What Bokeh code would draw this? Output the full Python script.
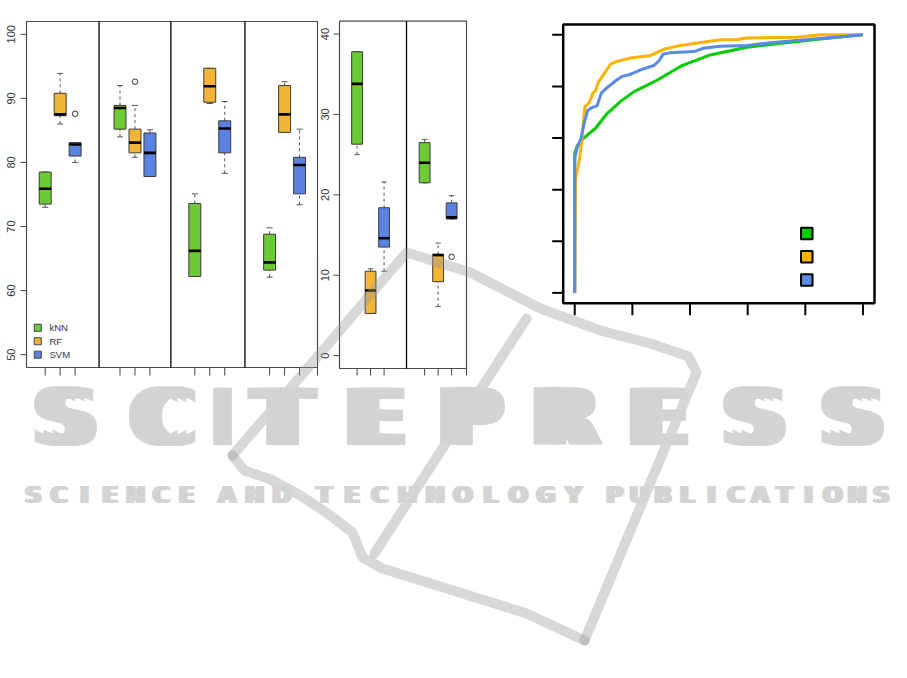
import math
from bokeh.plotting import figure
from bokeh.models import Range1d
from bokeh.core.properties import value
from bokeh.embed import file_html
from bokeh.resources import INLINE

# ---------------- data ----------------
methods = ["kNN", "RF", "SVM"]
box_colors = ["#6CCB35", "#F2B535", "#5B82E0"]
roc_colors = ["#00CC00", "#FFB300", "#5A8AE8"]

# Panel 1: four groups x three methods
acc_pos = [1, 2, 3, 6, 7, 8, 11, 12, 13, 16, 17, 18]
acc_low = [73.0, 86.0, 80.0, 84.0, 80.8, 77.8, 62.2, 89.2, 78.3, 62.1, 84.7, 73.4]
acc_q1 = [73.5, 87.3, 81.0, 85.2, 81.5, 77.8, 62.2, 89.4, 81.5, 63.2, 84.7, 75.1]
acc_med = [75.9, 87.5, 82.8, 88.5, 83.1, 81.5, 66.2, 91.9, 85.3, 64.4, 87.5, 79.6]
acc_q3 = [78.5, 90.8, 83.1, 88.9, 85.2, 84.6, 73.6, 94.7, 86.5, 68.8, 92.0, 80.8]
acc_high = [78.5, 93.9, 83.1, 92.0, 88.9, 85.1, 75.1, 94.7, 89.5, 69.8, 92.6, 85.2]
acc_out_pos = [3, 7]
acc_out_val = [87.6, 92.6]
acc_ticks = [50, 60, 70, 80, 90, 100]
acc_sep = [4.6, 9.4, 14.35]
acc_xlim = (-0.25, 19.2)
acc_ylim = (48, 102)
acc_legend_y = [54.2, 52.1, 50.0]

# Panel 2: two groups x three methods
err_pos = [1, 2, 3, 6, 7, 8]
err_low = [25.0, 5.25, 10.5, 21.5, 6.1, 17.0]
err_q1 = [26.3, 5.25, 13.5, 21.5, 9.2, 17.0]
err_med = [33.8, 8.1, 14.6, 24.0, 12.5, 17.2]
err_q3 = [37.8, 10.5, 18.4, 26.5, 12.6, 19.0]
err_high = [37.8, 10.8, 21.6, 26.9, 14.0, 19.9]
err_out_pos = [8]
err_out_val = [12.3]
err_ticks = [0, 10, 20, 30, 40]
err_sep = [4.66]
err_xlim = (-0.3, 9.1)
err_ylim = (-1.6, 41.6)

# Panel 3: ROC curves
roc_ticks = [0, 0.2, 0.4, 0.6, 0.8, 1.0]
roc_lim = (-0.04, 1.04)
roc_legend_y = [0.23, 0.14, 0.05]
knn_fpr = [0, 0, 0.008, 0.031, 0.072, 0.113, 0.159, 0.206, 0.287, 0.372, 0.47, 0.597, 0.725, 0.852, 1.0]
knn_tpr = [0, 0.54, 0.568, 0.6, 0.638, 0.696, 0.742, 0.78, 0.825, 0.881, 0.922, 0.952, 0.968, 0.984, 1.0]
rf_fpr = [0, 0.003, 0.017, 0.025, 0.035, 0.049, 0.064, 0.072, 0.083, 0.101, 0.124, 0.147, 0.194,
          0.263, 0.309, 0.367, 0.425, 0.505, 0.563, 0.597, 0.771, 0.852, 1.0]
rf_tpr = [0, 0.444, 0.522, 0.6, 0.722, 0.735, 0.776, 0.783, 0.819, 0.848, 0.886, 0.897, 0.91,
          0.92, 0.944, 0.959, 0.968, 0.981, 0.982, 0.988, 0.991, 1.0, 1.0]
svm_fpr = [0, 0, 0.008, 0.022, 0.034, 0.045, 0.06, 0.078, 0.092, 0.113, 0.142, 0.165, 0.188,
           0.229, 0.274, 0.292, 0.307, 0.333, 0.413, 0.447, 0.505, 0.597, 0.678, 0.829, 1.0]
svm_tpr = [0, 0.522, 0.561, 0.6, 0.664, 0.707, 0.718, 0.726, 0.774, 0.796, 0.822, 0.839, 0.845,
           0.864, 0.881, 0.899, 0.925, 0.931, 0.935, 0.948, 0.956, 0.959, 0.969, 0.984, 1.0]

# watermark
wm_big = "SCITEPRESS"
wm_big_centers = [65, 162, 222, 282, 375, 470, 565, 658, 754, 852]
wm_words = ["SCIENCE", "AND", "TECHNOLOGY", "PUBLICATIONS"]
wm_word_spans = [(20, 199), (213, 295), (310, 587), (602, 893)]
wm_paths_x = [[232, 300, 406, 470, 540, 600, 650, 688, 696, 584],
              [526, 374],
              [232, 244, 270, 300, 330, 352, 362, 382, 526, 584]]
wm_paths_y = [[455, 376, 252, 272, 308, 330, 343, 356, 372, 640],
              [318, 553],
              [455, 470, 479, 495, 515, 532, 557, 568, 613, 640]]

# ---------------- layout helpers ----------------
W, H = 891, 662
X0, X1, Y0, Y1 = 0, W, H, 0   # page coordinates of the canvas


def xrange_for(d0, d1, c0, c1):
    k = (c1 - c0) / (d1 - d0)
    return Range1d(start=d0 - (c0 - X0) / k, end=d0 + (X1 - c0) / k)


def yrange_for(v0, v1, b, t):
    k = (b - t) / (v1 - v0)
    return Range1d(start=v0 - (Y0 - b) / k, end=v0 + (b - Y1) / k)


p = figure(width=W, height=H, x_range=Range1d(X0, X1), y_range=Range1d(Y0, Y1),
           output_backend="svg", toolbar_location=None,
           x_axis_location=None, y_axis_location=None, min_border=0)
p.outline_line_color = None
p.grid.visible = False
p.background_fill_color = "white"

P1 = dict(l=26, r=317, t=21, b=367)
P2 = dict(l=339, r=466, t=20.7, b=368)
P3 = dict(l=562.7, r=874, t=24, b=302.7)

p.extra_x_ranges = {
    "p1x": xrange_for(acc_xlim[0], acc_xlim[1], P1["l"], P1["r"]),
    "p2x": xrange_for(err_xlim[0], err_xlim[1], P2["l"], P2["r"]),
    "p3x": xrange_for(roc_lim[0], roc_lim[1], P3["l"], P3["r"]),
}
p.extra_y_ranges = {
    "p1y": yrange_for(acc_ylim[0], acc_ylim[1], P1["b"], P1["t"]),
    "p2y": yrange_for(err_ylim[0], err_ylim[1], P2["b"], P2["t"]),
    "p3y": yrange_for(roc_lim[0], roc_lim[1], P3["b"], P3["t"]),
}

FONT = value("Liberation Sans")
BOXW = 0.4
CAPW = 0.2


def boxes(xn, yn, pos, low, q1, med, q3, high, out_pos, out_val, ngroups):
    cols = box_colors * ngroups
    kw = dict(x_range_name=xn, y_range_name=yn)
    p.segment(x0=pos, y0=low, x1=pos, y1=q1, line_color="#555555", line_width=1,
              line_dash="3 3", **kw)
    p.segment(x0=pos, y0=q3, x1=pos, y1=high, line_color="#555555", line_width=1,
              line_dash="3 3", **kw)
    p.segment(x0=[x - CAPW for x in pos], x1=[x + CAPW for x in pos], y0=low, y1=low,
              line_color="#555555", line_width=1, **kw)
    p.segment(x0=[x - CAPW for x in pos], x1=[x + CAPW for x in pos], y0=high, y1=high,
              line_color="#555555", line_width=1, **kw)
    p.quad(left=[x - BOXW for x in pos], right=[x + BOXW for x in pos], bottom=q1, top=q3,
           fill_color=cols, line_color="#3C3C3C", line_width=1, **kw)
    p.segment(x0=[x - BOXW for x in pos], x1=[x + BOXW for x in pos], y0=med, y1=med,
              line_color="black", line_width=2.6, **kw)
    p.scatter(x=out_pos, y=out_val, marker="circle", size=5.5, fill_color=None,
              line_color="#333333", line_width=1, **kw)


# ---------------- panel 1 ----------------
p.quad(left=[acc_xlim[0]], right=[acc_xlim[1]], bottom=[acc_ylim[0]], top=[acc_ylim[1]],
       fill_color=None, line_color="#4A4A4A", line_width=1.2,
       x_range_name="p1x", y_range_name="p1y")
p.segment(x0=acc_sep, x1=acc_sep, y0=[acc_ylim[0]] * 3, y1=[acc_ylim[1]] * 3,
          line_color="black", line_width=1.3, x_range_name="p1x", y_range_name="p1y")
boxes("p1x", "p1y", acc_pos, acc_low, acc_q1, acc_med, acc_q3, acc_high,
      acc_out_pos, acc_out_val, 4)
p.segment(x0=[P1["l"] - 6] * len(acc_ticks), x1=[P1["l"]] * len(acc_ticks),
          y0=acc_ticks, y1=acc_ticks, line_color="#444444", line_width=1, y_range_name="p1y")
p.text(x=[10.5] * len(acc_ticks), y=acc_ticks, text=[str(t) for t in acc_ticks],
       angle=math.pi / 2, text_align="center", text_baseline="middle",
       text_font=FONT, text_font_size="11px", text_color="#333333", y_range_name="p1y")
xt1 = acc_pos + [acc_xlim[1]]
p.segment(x0=xt1, x1=xt1, y0=[P1["b"]] * len(xt1), y1=[P1["b"] + 8] * len(xt1),
          line_color="#444444", line_width=1, x_range_name="p1x")
# legend
lx = 0.27
p.quad(left=[lx] * 3, right=[lx + 0.47] * 3, bottom=[v - 0.55 for v in acc_legend_y],
       top=[v + 0.55 for v in acc_legend_y], fill_color=box_colors, line_color="#444444",
       line_width=1, x_range_name="p1x", y_range_name="p1y")
p.text(x=[49] * 3, y=acc_legend_y, text=methods,
       text_align="left", text_baseline="middle", text_font=FONT, text_font_size="9.5px",
       text_color="#333333", y_range_name="p1y")

# ---------------- panel 2 ----------------
p.quad(left=[err_xlim[0]], right=[err_xlim[1]], bottom=[err_ylim[0]], top=[err_ylim[1]],
       fill_color=None, line_color="#4A4A4A", line_width=1.2,
       x_range_name="p2x", y_range_name="p2y")
p.segment(x0=err_sep, x1=err_sep, y0=[err_ylim[0]], y1=[err_ylim[1]],
          line_color="black", line_width=1.3, x_range_name="p2x", y_range_name="p2y")
boxes("p2x", "p2y", err_pos, err_low, err_q1, err_med, err_q3, err_high,
      err_out_pos, err_out_val, 2)
p.segment(x0=[P2["l"] - 6] * len(err_ticks), x1=[P2["l"]] * len(err_ticks),
          y0=err_ticks, y1=err_ticks, line_color="#444444", line_width=1, y_range_name="p2y")
p.text(x=[324] * len(err_ticks), y=err_ticks, text=[str(t) for t in err_ticks],
       angle=math.pi / 2, text_align="center", text_baseline="middle",
       text_font=FONT, text_font_size="11px", text_color="#333333", y_range_name="p2y")
xt2 = err_pos + [err_xlim[1]]
p.segment(x0=xt2, x1=xt2, y0=[P2["b"]] * len(xt2), y1=[P2["b"] + 7] * len(xt2),
          line_color="#444444", line_width=1, x_range_name="p2x")

# ---------------- panel 3 ----------------
kw3 = dict(x_range_name="p3x", y_range_name="p3y")
p.line(knn_fpr, knn_tpr, line_color=roc_colors[0], line_width=3, **kw3)
p.line(rf_fpr, rf_tpr, line_color=roc_colors[1], line_width=3, **kw3)
p.line(svm_fpr, svm_tpr, line_color=roc_colors[2], line_width=3, **kw3)
p.quad(left=[roc_lim[0]], right=[roc_lim[1]], bottom=[roc_lim[0]], top=[roc_lim[1]],
       fill_color=None, line_color="black", line_width=2.5, **kw3)
p.segment(x0=[P3["l"] - 11] * len(roc_ticks), x1=[P3["l"]] * len(roc_ticks),
          y0=roc_ticks, y1=roc_ticks, line_color="black", line_width=2, y_range_name="p3y")
p.segment(x0=roc_ticks, x1=roc_ticks, y0=[P3["b"]] * len(roc_ticks),
          y1=[P3["b"] + 12] * len(roc_ticks), line_color="black", line_width=2,
          x_range_name="p3x")
p.quad(left=[0.785] * 3, right=[0.825] * 3, bottom=[v - 0.022 for v in roc_legend_y],
       top=[v + 0.022 for v in roc_legend_y], fill_color=roc_colors, line_color="black",
       line_width=2, **kw3)

# ---------------- watermark ----------------
p.multi_line(xs=wm_paths_x, ys=wm_paths_y, line_color="#999999", line_alpha=0.38,
             line_width=10, line_cap="round", line_join="round")
bx, bt = [], []
for ch, cx in zip(wm_big, wm_big_centers):
    offs = [-2, 2] if ch == "I" else [-9, 0, 9]
    for o in offs:
        bx.append(cx + o)
        bt.append(ch)
p.text(x=bx, y=[417] * len(bx), text=bt, text_align="center",
       text_baseline="alphabetic", text_font=value("DejaVu Sans"), text_font_style="bold",
       text_font_size="78px", text_color="#D3D3D3")
sx, sc = [], []
for word, (a, b) in zip(wm_words, wm_word_spans):
    pitch = (b - a) / len(word)
    for i, ch in enumerate(word):
        for o in [-2, 2]:
            sx.append(a + pitch * (i + 0.5) + o)
            sc.append(ch)
p.text(x=sx, y=[494] * len(sx), text=sc, text_align="center", text_baseline="alphabetic",
       text_font=value("DejaVu Sans"), text_font_style="bold", text_font_size="23px",
       text_color="#D3D3D3")

open("out.html", "w").write(file_html(p, INLINE))
